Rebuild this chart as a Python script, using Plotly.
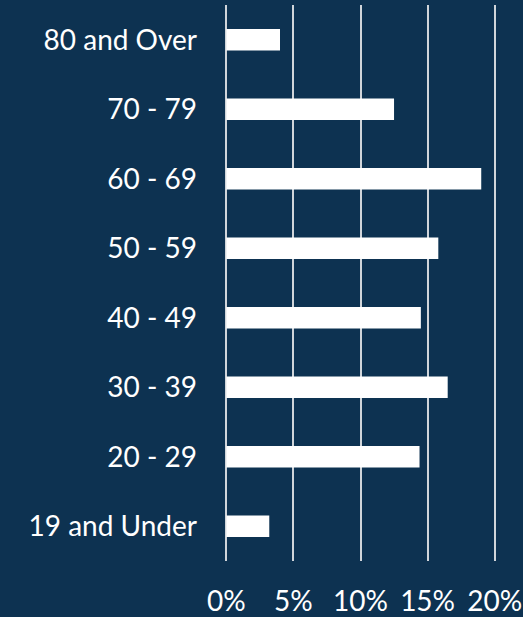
import plotly.graph_objects as go

# Age groups (bottom to top) and share of respondents in percent
age_groups = ["19 and Under", "20 - 29", "30 - 39", "40 - 49",
              "50 - 59", "60 - 69", "70 - 79", "80 and Over"]
shares = [3.2, 14.4, 16.5, 14.5, 15.8, 19.0, 12.5, 4.0]
x_ticks = [0, 5, 10, 15, 20]
x_tick_labels = ["0%", "5%", "10%", "15%", "20%"]

BG = "#0d3251"
FONT = dict(family="Lato, Open Sans, sans-serif", size=28, color="white")

fig = go.Figure(
    go.Bar(
        x=shares,
        y=age_groups,
        orientation="h",
        marker=dict(color="white", line=dict(width=0)),
        hoverinfo="skip",
    )
)

fig.update_layout(
    width=523,
    height=617,
    margin=dict(l=225.4, r=27.3, t=5, b=56, pad=0),
    paper_bgcolor=BG,
    plot_bgcolor=BG,
    font=FONT,
    bargap=0.69,
    showlegend=False,
)

fig.update_xaxes(
    range=[-0.1, 20.1],
    tickmode="array",
    tickvals=x_ticks,
    ticktext=x_tick_labels,
    showgrid=True,
    gridcolor="#d0d5da",
    gridwidth=1.5,
    zeroline=False,
    showline=False,
    ticks="",
    ticklabelstandoff=21,
    tickfont=FONT,
    automargin=False,
)

fig.update_yaxes(
    categoryorder="array",
    categoryarray=age_groups,
    showgrid=False,
    zeroline=False,
    showline=False,
    ticks="",
    ticklabelstandoff=27,
    tickfont=FONT,
    automargin=False,
)

fig.write_html("out.html")
